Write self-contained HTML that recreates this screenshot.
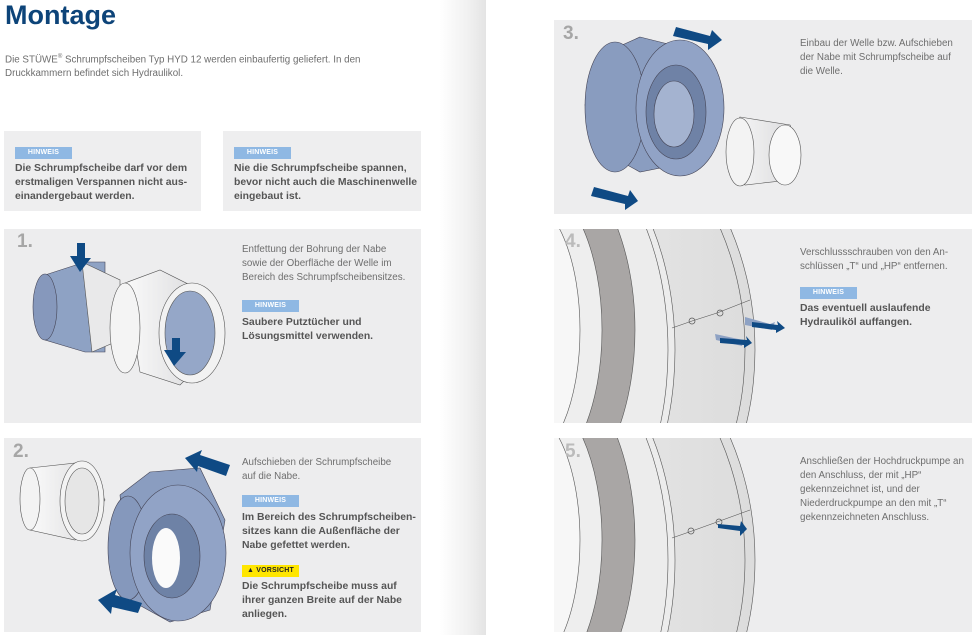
<!DOCTYPE html>
<html><head><meta charset="utf-8"><style>
*{margin:0;padding:0;box-sizing:border-box}
body{width:977px;height:635px;overflow:hidden;background:#fff;font-family:"Liberation Sans",Arial,sans-serif;position:relative}
.a{position:absolute}
.t{color:#6e6e6e;font-size:9.8px;line-height:14px}
.b{color:#555;font-size:10.4px;line-height:14px;font-weight:bold}
.badge{position:absolute;width:57px;height:12px;background:#8fb8e3;color:#fff;font-size:7px;font-weight:bold;text-align:center;line-height:12px;letter-spacing:0.2px}
.num{position:absolute;font-size:19px;font-weight:bold;color:#a6a6a6}
</style></head><body>
<div class="a" style="left:440px;top:0;width:46px;height:635px;background:linear-gradient(to right,#fff,#f1f1f1 60%,#e4e4e4)"></div>
<svg class="a" style="left:0;top:0" width="977" height="635" viewBox="0 0 977 635">
<defs>
<linearGradient id="w" x1="0" x2="1"><stop offset="0" stop-color="#fafafa"/><stop offset="1" stop-color="#d8d8da"/></linearGradient>
<linearGradient id="gb" x1="0" x2="1"><stop offset="0" stop-color="#f7f7f7"/><stop offset="1" stop-color="#dcdcdc"/></linearGradient>
<clipPath id="c4"><rect x="554" y="229" width="418" height="194"/></clipPath>
<clipPath id="c5"><rect x="554" y="438" width="418" height="194"/></clipPath>
</defs>
<rect x="4" y="131" width="197" height="80" fill="#eeeeef"/>
<rect x="223" y="131" width="198" height="80" fill="#eeeeef"/>
<rect x="4" y="229" width="417" height="194" fill="#ededee"/>
<rect x="4" y="438" width="417" height="194" fill="#ededee"/>
<rect x="554" y="20" width="418" height="194" fill="#ededee"/>
<rect x="554" y="229" width="418" height="194" fill="#ededee"/>
<rect x="554" y="438" width="418" height="194" fill="#ededee"/>
<!-- panel1 -->
<path d="M45 275 L85 262 L105 262 L105 352 L85 352 L45 340 Z" fill="#8ea2c4" stroke="#445" stroke-width=".6"/>
<ellipse cx="45" cy="307" rx="12" ry="33" fill="#8698bc" stroke="#445" stroke-width=".6"/>
<path d="M82 262 L120 280 L120 340 L92 352 Z" fill="#e9e9ea" stroke="#555" stroke-width=".6"/>
<path d="M125 283 L160 270 L200 290 L210 355 L180 385 L140 372 Z" fill="url(#w)" stroke="#555" stroke-width=".6"/>
<ellipse cx="125" cy="328" rx="15" ry="45" fill="#f4f4f4" stroke="#555" stroke-width=".6"/>
<ellipse cx="192" cy="333" rx="33" ry="50" fill="#f2f2f2" stroke="#555" stroke-width=".6"/>
<ellipse cx="190" cy="333" rx="25" ry="42" fill="#95a7c8" stroke="#555" stroke-width=".6"/>
<path d="M77 243 L85 243 L85 258 L91 258 L80 272 L70 256 L77 256 Z" fill="#0f4a84"/>
<path d="M172 338 L180 338 L180 352 L186 352 L174 366 L164 350 L172 350 Z" fill="#0f4a84"/>
<!-- panel2 -->
<path d="M30 468 L85 462 L105 500 L75 540 L30 530 Z" fill="url(#w)" stroke="#555" stroke-width=".6"/>
<ellipse cx="30" cy="499" rx="10" ry="31" fill="#f3f3f3" stroke="#555" stroke-width=".6"/>
<ellipse cx="82" cy="501" rx="22" ry="40" fill="#f3f3f3" stroke="#555" stroke-width=".6"/>
<ellipse cx="82" cy="501" rx="17" ry="33" fill="#e6e6e6" stroke="#555" stroke-width=".6"/>
<path d="M120 495 L150 472 L200 468 L225 520 L210 610 L170 622 L130 600 Z" fill="#8a9dc0" stroke="#445" stroke-width=".6"/>
<ellipse cx="128" cy="548" rx="20" ry="52" fill="#8598bc" stroke="#445" stroke-width=".6"/>
<ellipse cx="178" cy="553" rx="48" ry="68" fill="#91a3c6" stroke="#445" stroke-width=".6"/>
<ellipse cx="172" cy="556" rx="28" ry="42" fill="#6e82a6" stroke="#445" stroke-width=".6"/>
<ellipse cx="166" cy="558" rx="14" ry="30" fill="#fafafa"/>
<path d="M230 465 L200 455 L202 450 L185 458 L197 472 L198 466 L226 476 Z" fill="#0f4a84"/>
<path d="M142 603 L115 595 L117 589 L98 600 L111 614 L112 607 L138 613 Z" fill="#0f4a84"/>
<!-- panel3 -->
<path d="M640 37 L700 52 L720 100 L700 160 L640 172 L600 150 L585 105 L600 55 Z" fill="#8a9dc0" stroke="#445" stroke-width=".6"/>
<ellipse cx="615" cy="107" rx="30" ry="65" fill="#899cbf" stroke="#445" stroke-width=".6"/>
<ellipse cx="680" cy="108" rx="44" ry="68" fill="#91a3c6" stroke="#445" stroke-width=".6"/>
<ellipse cx="676" cy="112" rx="30" ry="47" fill="#6f82a6" stroke="#445" stroke-width=".6"/>
<ellipse cx="674" cy="114" rx="20" ry="33" fill="#a4b3d0" stroke="#445" stroke-width=".6"/>
<path d="M740 117 L790 125 L800 150 L790 180 L745 185 L727 150 Z" fill="url(#w)" stroke="#555" stroke-width=".6"/>
<ellipse cx="740" cy="152" rx="14" ry="34" fill="#f3f3f3" stroke="#555" stroke-width=".6"/>
<ellipse cx="785" cy="155" rx="16" ry="30" fill="#f8f8f8" stroke="#555" stroke-width=".6"/>
<path d="M676 27 L710 36 L712 30 L722 40 L708 50 L708 44 L673 36 Z" fill="#0f4a84"/>
<path d="M594 187 L628 196 L630 190 L638 201 L625 210 L625 204 L591 196 Z" fill="#0f4a84"/>
<!-- panel4 -->
<g clip-path="url(#c4)">
<ellipse cx="540" cy="350" rx="215" ry="262" fill="url(#gb)" stroke="#555" stroke-width=".6"/>
<ellipse cx="540" cy="350" rx="205" ry="255" fill="none" stroke="#555" stroke-width=".6"/>
<ellipse cx="540" cy="350" rx="135" ry="222" fill="#ececec" stroke="#555" stroke-width=".6"/>
<ellipse cx="540" cy="350" rx="128" ry="218" fill="none" stroke="#555" stroke-width=".6"/>
<ellipse cx="535" cy="330" rx="100" ry="180" fill="#a9a6a5" stroke="#555" stroke-width=".6"/>
<ellipse cx="530" cy="330" rx="72" ry="150" fill="#eee" stroke="#555" stroke-width=".6"/>
<ellipse cx="525" cy="330" rx="55" ry="130" fill="#f7f7f7" stroke="#555" stroke-width=".6"/>
<polyline points="672,328 692,321 717,313 750,300" fill="none" stroke="#555" stroke-width=".6"/>
<circle cx="692" cy="321" r="3" fill="none" stroke="#555" stroke-width=".7"/>
<circle cx="720" cy="313" r="3" fill="none" stroke="#555" stroke-width=".7"/>
<path d="M715 334 L743 340 L742 346 L716 340 Z" fill="#8ea2c4"/>
<path d="M745 317 L770 324 L775 322 L772 330 L745 325 Z" fill="#8ea2c4"/>
<path d="M720 338 L747 340 L746 336 L752 343 L744 348 L744 345 L720 343 Z" fill="#0f4a84"/>
<path d="M752 322 L778 325 L777 321 L785 328 L776 333 L776 330 L752 327 Z" fill="#0f4a84"/>
</g>
<!-- panel5 -->
<g clip-path="url(#c5)">
<ellipse cx="540" cy="560" rx="215" ry="262" fill="url(#gb)" stroke="#555" stroke-width=".6"/>
<ellipse cx="540" cy="560" rx="205" ry="255" fill="none" stroke="#555" stroke-width=".6"/>
<ellipse cx="540" cy="560" rx="135" ry="222" fill="#ececec" stroke="#555" stroke-width=".6"/>
<ellipse cx="540" cy="560" rx="128" ry="218" fill="none" stroke="#555" stroke-width=".6"/>
<ellipse cx="535" cy="540" rx="100" ry="180" fill="#a9a6a5" stroke="#555" stroke-width=".6"/>
<ellipse cx="530" cy="540" rx="72" ry="150" fill="#eee" stroke="#555" stroke-width=".6"/>
<ellipse cx="525" cy="540" rx="55" ry="130" fill="#f7f7f7" stroke="#555" stroke-width=".6"/>
<polyline points="672,538 692,531 717,522 750,510" fill="none" stroke="#555" stroke-width=".6"/>
<circle cx="691" cy="531" r="3" fill="none" stroke="#555" stroke-width=".7"/>
<circle cx="719" cy="522" r="3" fill="none" stroke="#555" stroke-width=".7"/>
<path d="M718 524 L740 526 L741 521 L747 529 L740 536 L740 531 L718 528 Z" fill="#0f4a84"/>
</g>
</svg>
<div class="a" style="left:5px;top:0;font-size:27px;font-weight:bold;color:#0d4479">Montage</div>
<div class="a t" style="left:5px;top:50px;width:380px">Die STÜWE<sup style="font-size:6px">®</sup> Schrumpfscheiben Typ HYD 12 werden einbaufertig geliefert. In den Druckkammern befindet sich Hydraulikol.</div>
<div class="badge" style="left:15px;top:147px">HINWEIS</div>
<div class="a b" style="left:15px;top:162px;width:180px">Die Schrumpfscheibe darf vor dem erstmaligen Verspannen nicht aus­einandergebaut werden.</div>
<div class="badge" style="left:234px;top:147px">HINWEIS</div>
<div class="a b" style="left:234px;top:162px;width:185px">Nie die Schrumpfscheibe spannen, bevor nicht auch die Maschinenwelle eingebaut ist.</div>
<div class="num" style="left:17px;top:231px">1.</div>
<div class="a t" style="left:242px;top:243px;width:168px">Entfettung der Bohrung der Nabe sowie der Oberfläche der Welle im Bereich des Schrumpfscheibensitzes.</div>
<div class="badge" style="left:242px;top:300px">HINWEIS</div>
<div class="a b" style="left:242px;top:316px;width:175px">Saubere Putztücher und Lösungsmittel verwenden.</div>
<div class="num" style="left:13px;top:441px">2.</div>
<div class="a t" style="left:242px;top:456px;width:160px">Aufschieben der Schrumpfscheibe auf die Nabe.</div>
<div class="badge" style="left:242px;top:495px">HINWEIS</div>
<div class="a b" style="left:242px;top:511px;width:175px">Im Bereich des Schrumpfscheiben­sitzes kann die Außenfläche der Nabe gefettet werden.</div>
<div class="badge" style="left:242px;top:565px;background:#ffe600;color:#222">▲ VORSICHT</div>
<div class="a b" style="left:242px;top:580px;width:175px">Die Schrumpfscheibe muss auf ihrer ganzen Breite auf der Nabe anliegen.</div>
<div class="num" style="left:563px;top:23px">3.</div>
<div class="a t" style="left:800px;top:37px;width:162px">Einbau der Welle bzw. Aufschieben der Nabe mit Schrumpfscheibe auf die Welle.</div>
<div class="num" style="left:565px;top:231px;color:#bbb">4.</div>
<div class="a t" style="left:800px;top:246px;width:165px">Verschlussschrauben von den An­schlüssen „T“ und „HP“ entfernen.</div>
<div class="badge" style="left:800px;top:287px">HINWEIS</div>
<div class="a b" style="left:800px;top:302px;width:170px">Das eventuell auslaufende Hydrauliköl auffangen.</div>
<div class="num" style="left:565px;top:441px;color:#bbb">5.</div>
<div class="a t" style="left:800px;top:455px;width:165px">Anschließen der Hochdruckpumpe an den Anschluss, der mit „HP“ gekennzeichnet ist, und der Niederdruckpumpe an den mit „T“ gekennzeichneten Anschluss.</div>
</body></html>
